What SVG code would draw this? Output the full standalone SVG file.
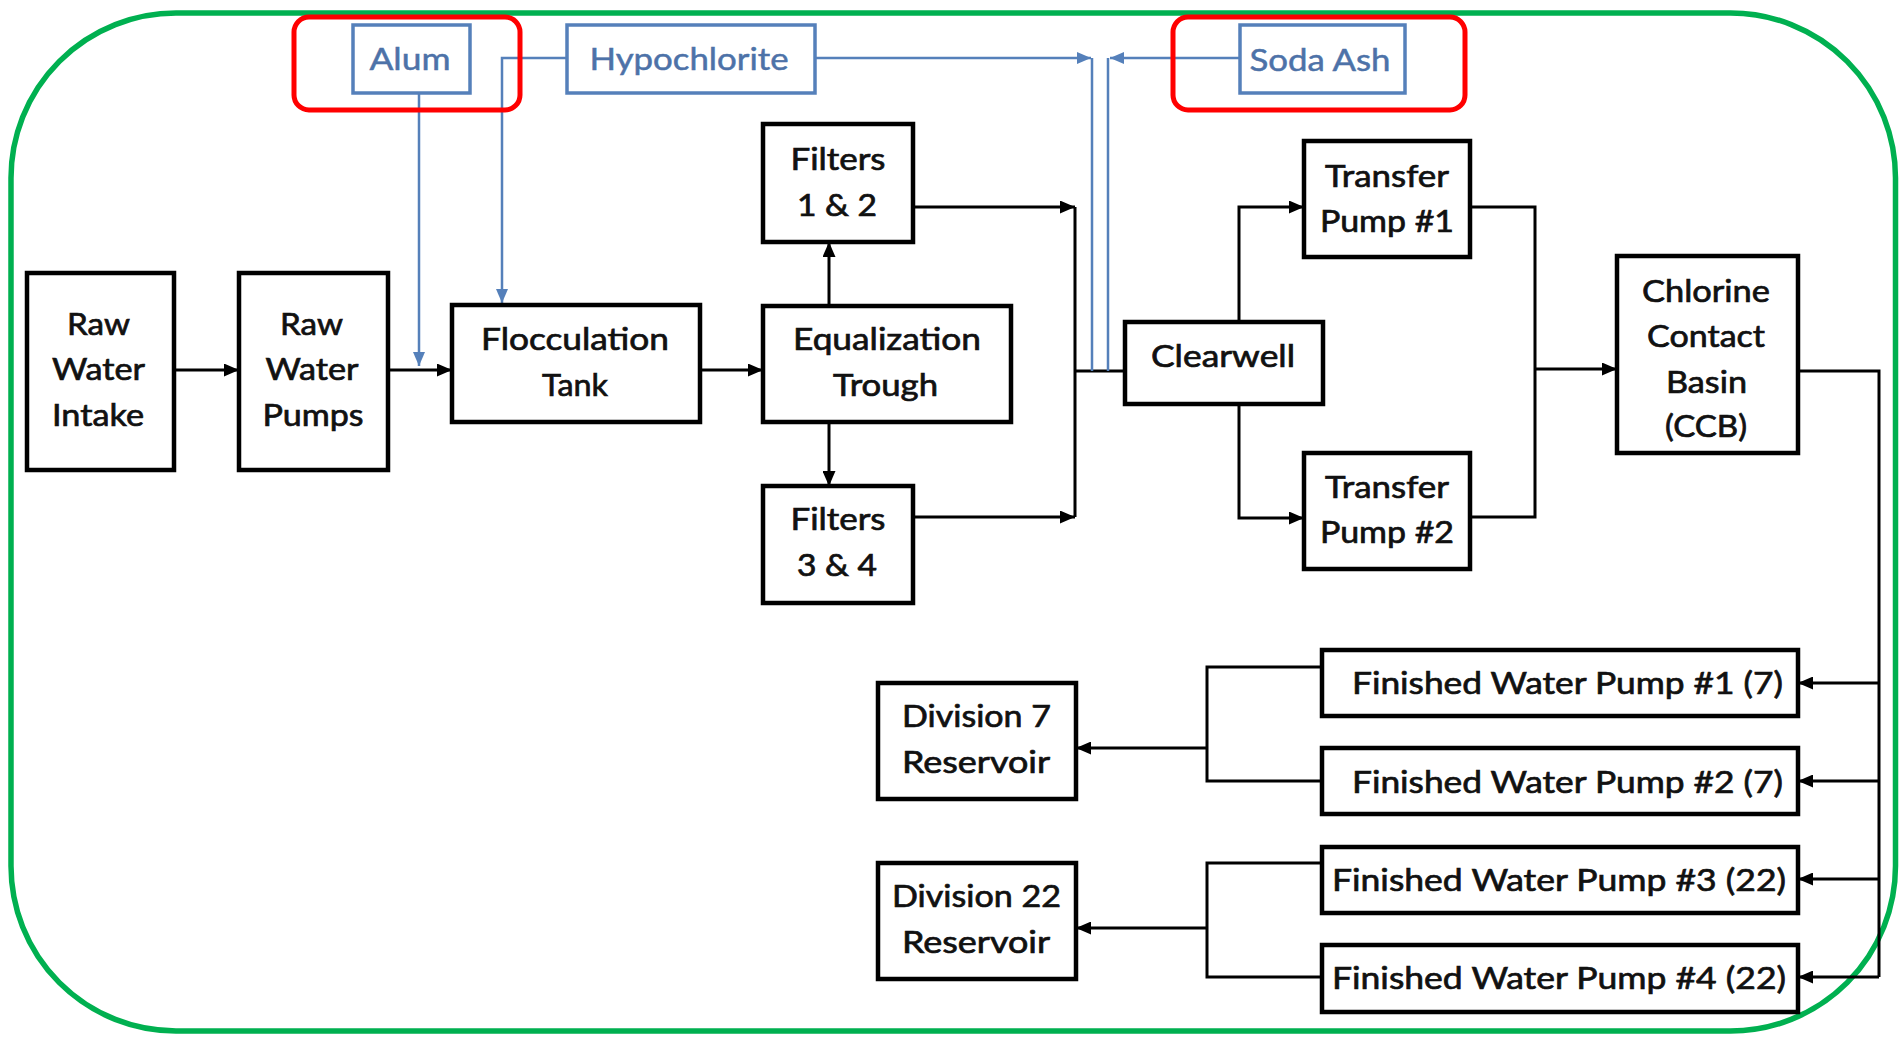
<svg xmlns="http://www.w3.org/2000/svg" width="1902" height="1037" viewBox="0 0 1902 1037">
<style>
.bx{fill:#fff;stroke:#000;stroke-width:4.5}
.bb{fill:#fff;stroke:#5580BA;stroke-width:3.5}
.hl{fill:none;stroke:#FF0000;stroke-width:5}
.t{font-family:Lato,"Open Sans","Liberation Sans",sans-serif;font-size:30.5px;fill:#111;stroke:#111;stroke-width:0.7;text-anchor:middle}
.tf{font-size:31.5px}
.tb{font-family:Lato,"Open Sans","Liberation Sans",sans-serif;font-size:31px;fill:#4D72A8;stroke:#4D72A8;stroke-width:0.5;text-anchor:middle}
.c{fill:none;stroke:#000;stroke-width:3}
.cb{fill:none;stroke:#5580BA;stroke-width:2.5}
</style>
<defs>
<marker id="ak" viewBox="0 0 15 13" refX="15" refY="6.5" markerWidth="15" markerHeight="13" markerUnits="userSpaceOnUse" orient="auto"><path d="M0,0 L15,6.5 L0,13 z" fill="#000"/></marker>
<marker id="ab" viewBox="0 0 14 12" refX="14" refY="6" markerWidth="14" markerHeight="12" markerUnits="userSpaceOnUse" orient="auto"><path d="M0,0 L14,6 L0,12 z" fill="#5580BA"/></marker>
</defs>
<rect width="1902" height="1037" fill="#fff"/>
<rect id="frame" x="11" y="13" width="1884.5" height="1018" rx="165" ry="165" fill="none" stroke="#00B050" stroke-width="5.5"/>

<g id="connectors">
<path class="c" d="M174,370 H239" marker-end="url(#ak)"/>
<path class="c" d="M388,370 H452" marker-end="url(#ak)"/>
<path class="c" d="M700,370 H763" marker-end="url(#ak)"/>
<path class="c" d="M829,306 V242" marker-end="url(#ak)"/>
<path class="c" d="M829,422 V486" marker-end="url(#ak)"/>
<path class="c" d="M913,207 H1075" marker-end="url(#ak)"/>
<path class="c" d="M913,517 H1075" marker-end="url(#ak)"/>
<path class="c" d="M1075,207 V517"/>
<path class="c" d="M1075,371 H1125"/>
<path class="c" d="M1239,322 V207 H1304" marker-end="url(#ak)"/>
<path class="c" d="M1239,404 V518 H1304" marker-end="url(#ak)"/>
<path class="c" d="M1470,207 H1535 V517 H1470"/>
<path class="c" d="M1535,369 H1617" marker-end="url(#ak)"/>
<path class="c" d="M1798,371 H1879 V977" stroke-width="2.5"/>
<path class="c" d="M1879,683 H1798" marker-end="url(#ak)"/>
<path class="c" d="M1879,781 H1798" marker-end="url(#ak)"/>
<path class="c" d="M1879,879 H1798" marker-end="url(#ak)"/>
<path class="c" d="M1879,977 H1798" marker-end="url(#ak)"/>
<path class="c" d="M1322,667 H1207 V781 H1322"/>
<path class="c" d="M1207,748 H1076" marker-end="url(#ak)"/>
<path class="c" d="M1322,863 H1207 V977 H1322"/>
<path class="c" d="M1207,928 H1076" marker-end="url(#ak)"/>
<path class="cb" d="M419,93 V366" marker-end="url(#ab)"/>
<path class="cb" d="M567,58 H502 V303" marker-end="url(#ab)"/>
<path class="cb" d="M815,58 H1091" marker-end="url(#ab)"/>
<path class="cb" d="M1240,58 H1110" marker-end="url(#ab)"/>
<path class="cb" d="M1092,58 V371"/>
<path class="cb" d="M1108,58 V371"/>
</g>

<g id="alum"><rect class="bb" x="353" y="25" width="117" height="68"/><text class="tb" x="410" y="70" textLength="81" lengthAdjust="spacingAndGlyphs">Alum</text></g>
<g id="hypochlorite"><rect class="bb" x="567" y="25" width="248" height="68"/><text class="tb" x="689" y="70" textLength="199" lengthAdjust="spacingAndGlyphs">Hypochlorite</text></g>
<g id="soda-ash"><rect class="bb" x="1240" y="25" width="165" height="68"/><text class="tb" x="1320" y="71" textLength="141" lengthAdjust="spacingAndGlyphs">Soda Ash</text></g>
<g id="highlight-alum"><rect class="hl" x="294" y="17" width="226" height="93" rx="15"/></g>
<g id="highlight-soda"><rect class="hl" x="1173" y="17" width="292" height="93" rx="15"/></g>

<g id="raw-water-intake"><rect class="bx" x="27" y="273" width="147" height="197"/>
<text class="t" x="98.5" y="335" textLength="63" lengthAdjust="spacingAndGlyphs">Raw</text>
<text class="t" x="98.5" y="380" textLength="93" lengthAdjust="spacingAndGlyphs">Water</text>
<text class="t" x="98" y="426" textLength="92" lengthAdjust="spacingAndGlyphs">Intake</text></g>
<g id="raw-water-pumps"><rect class="bx" x="239" y="273" width="149" height="197"/>
<text class="t" x="311.5" y="335" textLength="63" lengthAdjust="spacingAndGlyphs">Raw</text>
<text class="t" x="312" y="380" textLength="93" lengthAdjust="spacingAndGlyphs">Water</text>
<text class="t" x="313" y="426" textLength="101" lengthAdjust="spacingAndGlyphs">Pumps</text></g>
<g id="flocculation-tank"><rect class="bx" x="452" y="305" width="248" height="117"/>
<text class="t" x="575" y="350" textLength="188" lengthAdjust="spacingAndGlyphs">Flocculation</text>
<text class="t" x="575" y="396" textLength="66" lengthAdjust="spacingAndGlyphs">Tank</text></g>
<g id="filters-1-2"><rect class="bx" x="763" y="124" width="150" height="118"/>
<text class="t" x="838" y="170" textLength="95" lengthAdjust="spacingAndGlyphs">Filters</text>
<text class="t" x="837" y="216" textLength="80" lengthAdjust="spacingAndGlyphs">1 &amp; 2</text></g>
<g id="equalization-trough"><rect class="bx" x="763" y="306" width="248" height="116"/>
<text class="t" x="887" y="350" textLength="188" lengthAdjust="spacingAndGlyphs">Equalization</text>
<text class="t" x="885.5" y="396" textLength="105" lengthAdjust="spacingAndGlyphs">Trough</text></g>
<g id="filters-3-4"><rect class="bx" x="763" y="486" width="150" height="117"/>
<text class="t" x="838" y="530" textLength="95" lengthAdjust="spacingAndGlyphs">Filters</text>
<text class="t" x="837" y="576" textLength="80" lengthAdjust="spacingAndGlyphs">3 &amp; 4</text></g>
<g id="clearwell"><rect class="bx" x="1125" y="322" width="198" height="82"/>
<text class="t" x="1223" y="367" textLength="144" lengthAdjust="spacingAndGlyphs">Clearwell</text></g>
<g id="transfer-pump-1"><rect class="bx" x="1304" y="141" width="166" height="116"/>
<text class="t" x="1387" y="187" textLength="124" lengthAdjust="spacingAndGlyphs">Transfer</text>
<text class="t" x="1387" y="232" textLength="134" lengthAdjust="spacingAndGlyphs">Pump #1</text></g>
<g id="transfer-pump-2"><rect class="bx" x="1304" y="453" width="166" height="116"/>
<text class="t" x="1387" y="498" textLength="124" lengthAdjust="spacingAndGlyphs">Transfer</text>
<text class="t" x="1387" y="543" textLength="134" lengthAdjust="spacingAndGlyphs">Pump #2</text></g>
<g id="chlorine-contact-basin"><rect class="bx" x="1617" y="256" width="181" height="197"/>
<text class="t" x="1706" y="302" textLength="128" lengthAdjust="spacingAndGlyphs">Chlorine</text>
<text class="t" x="1706" y="347" textLength="118" lengthAdjust="spacingAndGlyphs">Contact</text>
<text class="t" x="1706.5" y="393" textLength="81" lengthAdjust="spacingAndGlyphs">Basin</text>
<text class="t" x="1706" y="437" textLength="82" lengthAdjust="spacingAndGlyphs">(CCB)</text></g>
<g id="fwp-1"><rect class="bx" x="1322" y="650" width="476" height="66"/>
<text class="t tf" x="1567.5" y="694" textLength="431" lengthAdjust="spacingAndGlyphs">Finished Water Pump #1 (7)</text></g>
<g id="fwp-2"><rect class="bx" x="1322" y="748" width="476" height="66"/>
<text class="t tf" x="1567.5" y="793" textLength="431" lengthAdjust="spacingAndGlyphs">Finished Water Pump #2 (7)</text></g>
<g id="fwp-3"><rect class="bx" x="1322" y="847" width="476" height="66"/>
<text class="t tf" x="1559" y="891" textLength="454" lengthAdjust="spacingAndGlyphs">Finished Water Pump #3 (22)</text></g>
<g id="fwp-4"><rect class="bx" x="1322" y="945" width="476" height="67"/>
<text class="t tf" x="1559" y="989" textLength="454" lengthAdjust="spacingAndGlyphs">Finished Water Pump #4 (22)</text></g>
<g id="division-7-reservoir"><rect class="bx" x="878" y="683" width="198" height="116"/>
<text class="t" x="976.5" y="727" textLength="149" lengthAdjust="spacingAndGlyphs">Division 7</text>
<text class="t" x="976" y="773" textLength="148" lengthAdjust="spacingAndGlyphs">Reservoir</text></g>
<g id="division-22-reservoir"><rect class="bx" x="878" y="863" width="198" height="116"/>
<text class="t" x="976.5" y="907" textLength="169" lengthAdjust="spacingAndGlyphs">Division 22</text>
<text class="t" x="976" y="953" textLength="148" lengthAdjust="spacingAndGlyphs">Reservoir</text></g>
</svg>
